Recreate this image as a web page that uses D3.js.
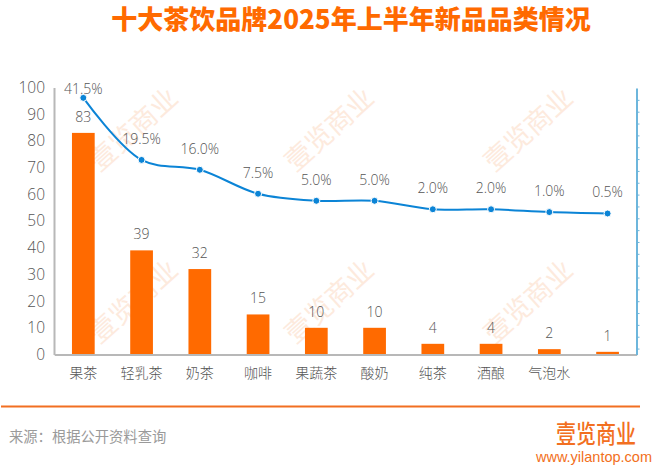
<!DOCTYPE html>
<html>
<head>
	<meta charset="utf-8">
	<script src="https://cdn.jsdelivr.net/npm/d3@7"></script>
	<style>
		html, body {
			padding: 0;
			margin: 0;
			background: #fff;
		}
		text {
			font-family: "Open Sans", "Noto Sans CJK SC", sans-serif;
		}
	</style>
</head>
<body>
	<script>
		// ~ ~ ~ DATA ~ ~ ~
		const categories = ["果茶", "轻乳茶", "奶茶", "咖啡", "果蔬茶", "酸奶", "纯茶", "酒酿", "气泡水", ""];
		const counts = [83, 39, 32, 15, 10, 10, 4, 4, 2, 1];
		const shares = [41.5, 19.5, 16.0, 7.5, 5.0, 5.0, 2.0, 2.0, 1.0, 0.5];
		const leftTicks = [0, 10, 20, 30, 40, 50, 60, 70, 80, 90, 100];
		const title = "十大茶饮品牌2025年上半年新品品类情况";
		const source = "来源：根据公开资料查询";
		const brand = "壹览商业";
		const brandUrl = "www.yilantop.com";

		// ~ ~ ~ COLORS ~ ~ ~
		const ORANGE = "#ff6a00";
		const BLUE = "#0b84d6";
		const AXIS_GREY = "#b8b8b8";
		const AXIS_BLUE = "#6db6dc";
		const TEXT_GREY = "#555555";

		const width = 660, height = 470;
		const svg = d3.select("body").append("svg")
			.attr("width", width)
			.attr("height", height)
			.style("display", "block");

		const x = d3.scaleBand().domain(d3.range(categories.length)).range([54.2, 636.7])
			.paddingInner(0.61).paddingOuter(0.305);
		const y = d3.scaleLinear().domain([0, 100]).range([354.5, 87.5]);
		const yShare = d3.scaleLinear().domain([-49.5, 45]).range([354.5, 88]);
		const cx = (i) => x(i) + x.bandwidth() / 2;

		// watermarks sit behind the chart
		const marks = d3.cross([132, 328, 527], [128, 300]);
		svg.selectAll("text.mark").data(marks).enter().append("text")
			.attr("class", "mark")
			.attr("transform", (d) => "translate(" + d[0] + "," + d[1] + ") rotate(-42)")
			.attr("text-anchor", "middle")
			.attr("dominant-baseline", "central")
			.style("font-family", "'Noto Sans CJK SC'")
			.style("font-size", "27px")
			.style("font-weight", 400)
			.attr("fill", "#fdeadd")
			.text(brand);

		svg.append("text")
			.attr("x", 351).attr("y", 29)
			.attr("text-anchor", "middle")
			.style("font-family", "'Noto Sans CJK SC'")
			.style("font-size", "26px")
			.style("font-weight", 900)
			.attr("fill", ORANGE)
			.text(title);

		// bars
		svg.selectAll("rect.bar").data(counts).enter().append("rect")
			.attr("class", "bar")
			.attr("x", (d, i) => x(i))
			.attr("width", x.bandwidth())
			.attr("y", (d) => y(d))
			.attr("height", (d) => y(0) - y(d))
			.attr("fill", ORANGE);

		svg.selectAll("text.count").data(counts).enter().append("text")
			.attr("class", "count")
			.attr("x", (d, i) => cx(i))
			.attr("y", (d) => y(d) - 11)
			.attr("text-anchor", "middle")
			.style("font-size", "14px")
			.style("font-weight", 300)
			.attr("fill", TEXT_GREY)
			.text((d) => d);

		// left axis
		const leftAxis = svg.append("g")
			.attr("transform", "translate(54,0)")
			.call(d3.axisLeft(y).tickValues(leftTicks).tickSize(0).tickPadding(9));
		leftAxis.select(".domain").attr("stroke", AXIS_GREY).attr("stroke-width", 2);
		leftAxis.selectAll("text")
			.style("font-size", "15.5px")
			.style("font-weight", 300)
			.attr("fill", TEXT_GREY);

		// category axis
		const bottomAxis = svg.append("g")
			.attr("transform", "translate(0,354.5)")
			.call(d3.axisBottom(x).tickFormat((i) => categories[i]).tickSize(0).tickPadding(14));
		bottomAxis.select(".domain").attr("stroke", AXIS_GREY).attr("stroke-width", 2);
		bottomAxis.selectAll("text")
			.style("font-family", "'Noto Sans CJK SC'")
			.style("font-size", "14px")
			.style("font-weight", 300)
			.attr("fill", TEXT_GREY);

		// right axis, labels hidden
		const rightAxis = svg.append("g")
			.attr("transform", "translate(636.5,0)")
			.call(d3.axisRight(yShare).tickValues(d3.range(40.8, -50, -4.2)).tickSize(3).tickSizeOuter(0).tickFormat(""));
		rightAxis.selectAll("path, line").attr("stroke", AXIS_BLUE);
		rightAxis.select(".domain").attr("stroke-width", 2);

		// share line
		const line = d3.line()
			.x((d, i) => cx(i))
			.y((d) => yShare(d))
			.curve(d3.curveCatmullRom.alpha(0.5));
		svg.append("path")
			.attr("d", line(shares))
			.attr("fill", "none")
			.attr("stroke", BLUE)
			.attr("stroke-width", 2);

		svg.selectAll("circle.pt").data(shares).enter().append("circle")
			.attr("class", "pt")
			.attr("cx", (d, i) => cx(i))
			.attr("cy", (d) => yShare(d))
			.attr("r", 3.5)
			.attr("fill", BLUE)
			.attr("stroke", "#fff")
			.attr("stroke-width", 1);

		// the first label sits right on top of its point
		svg.selectAll("text.share").data(shares).enter().append("text")
			.attr("class", "share")
			.attr("x", (d, i) => cx(i))
			.attr("y", (d, i) => yShare(d) - (i == 0 ? 3.5 : 16))
			.attr("text-anchor", "middle")
			.style("font-size", "14px")
			.style("font-weight", 300)
			.attr("fill", TEXT_GREY)
			.text((d) => d.toFixed(1) + "%");

		// footer
		svg.append("line")
			.attr("x1", 1).attr("x2", 640)
			.attr("y1", 406.5).attr("y2", 406.5)
			.attr("stroke", "#f26f21")
			.attr("stroke-width", 2);

		svg.append("text")
			.attr("x", 9).attr("y", 442)
			.style("font-family", "'Noto Sans CJK SC'")
			.style("font-size", "14.3px")
			.attr("fill", "#9a9a9a")
			.text(source);

		// logo is stretched taller than wide
		svg.append("text")
			.attr("transform", "translate(596,443) scale(1,1.25)")
			.attr("text-anchor", "middle")
			.style("font-family", "'Noto Sans CJK SC'")
			.style("font-size", "20px")
			.style("font-weight", 500)
			.attr("fill", "#f26f21")
			.text(brand);

		svg.append("text")
			.attr("x", 594).attr("y", 462)
			.attr("text-anchor", "middle")
			.style("font-family", "'Liberation Sans'")
			.style("font-size", "14.5px")
			.attr("fill", "#f26f21")
			.text(brandUrl);
	</script>
</body>
</html>
